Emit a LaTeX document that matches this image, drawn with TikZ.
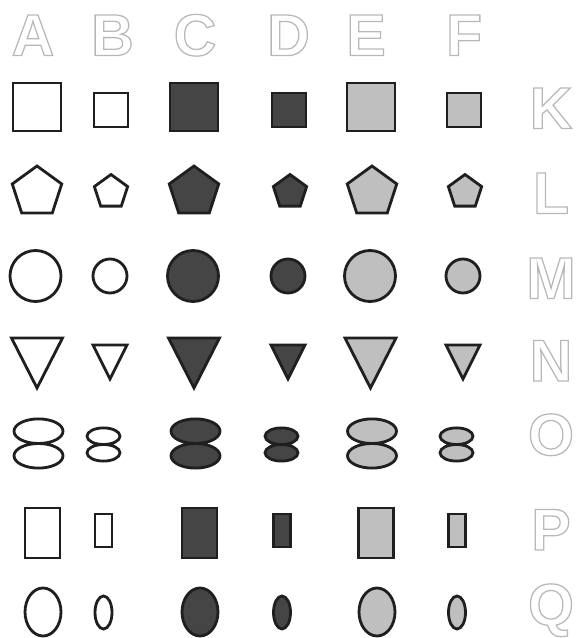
\documentclass[tikz,border=0pt]{standalone}
\usepackage{fontspec}
\setsansfont{Liberation Sans}
\colorlet{darkfill}{black!73}
\colorlet{lightfill}{black!25}
\newcommand\outl[1]{\special{pdf:literal direct 1 Tr 0.9 w}#1\special{pdf:literal direct 0 Tr}}

\begin{document}
\begin{tikzpicture}[x=0.025cm,y=0.025cm,
  shp/.style={draw=black!88,line width=2pt,fill=#1},
  letter/.style={font=\sffamily\bfseries\fontsize{42}{42}\selectfont,text height=30pt,text depth=0pt,inner sep=0pt,text=black!28}]
\useasboundingbox (0,0) rectangle (576,638);

% letters
\foreach \n/\x in {A/33,B/112.5,C/195,D/288.5,E/366,F/464}{\node[letter] (col\n) at (\x,603.5) {\outl{\n}};}
\foreach \n/\y in {K/530.5,L/445.5,M/360.5,N/278,O/204,P/109,Q/34}{\node[letter] (row\n) at (551,\y) {\outl{\n}};}

% K: squares
\foreach \x/\y/\s/\f in {37/531/48/white,111/528/34/white,194/531/48/darkfill,289/528/34/darkfill,371/531/48/lightfill,464/528/34/lightfill}
  {\filldraw[shp=\f] (\x-\s/2,\y-\s/2) rectangle ++(\s,\s);}
% L: pentagons
\foreach \x/\r/\f in {37/26/white,111/17.5/white,194/26/darkfill,290/17.5/darkfill,372/26/lightfill,465/17.5/lightfill}
  {\filldraw[shp=\f,shift={(\x,446)}] (90:\r) -- (162:\r) -- (234:\r) -- (306:\r) -- (18:\r) -- cycle;}
% M: circles
\foreach \x/\r/\f in {35.5/25.5/white,110/17/white,193/25.5/darkfill,288/17/darkfill,370/25.5/lightfill,463/17/lightfill}
  {\filldraw[shp=\f] (\x,362) circle[radius=\r];}
% N: triangles
\foreach \x/\w/\t/\b/\f in {37/25.5/300/250/white,110/17/293/259/white,194/25.5/300/250/darkfill,288/17/293/259/darkfill,370.5/25.5/300/250/lightfill,463/17/293/259/lightfill}
  {\filldraw[shp=\f] (\x-\w,\t) -- (\x+\w,\t) -- (\x,\b) -- cycle;}
% O: double ellipses
\foreach \x/\c/\rx/\ry/\f in {38.5/194.5/24.5/12.3/white,103.5/193.5/16.5/8.3/white,195.5/194.5/24.5/12.3/darkfill,281.5/193.5/16.5/8.3/darkfill,372/194.5/24.5/12.3/lightfill,456.5/193.5/16.5/8.3/lightfill}
  {\filldraw[shp=\f] (\x,\c+\ry) ellipse[x radius=\rx,y radius=\ry] (\x,\c-\ry) ellipse[x radius=\rx,y radius=\ry];}
% P: rectangles
\foreach \x/\y/\w/\h/\f in {42.5/105/35/50/white,103.5/107.5/17/33/white,199.5/105/35/50/darkfill,282/107.5/17/33/darkfill,376/105/35/50/lightfill,457/107.5/17/33/lightfill}
  {\filldraw[shp=\f] (\x-\w/2,\y-\h/2) rectangle ++(\w,\h);}
% Q: ellipses
\foreach \x/\y/\rx/\ry/\f in {43/26/18/24/white,103.5/25.5/8.5/16.5/white,200/26/18/24/darkfill,282/25.5/8.5/16.5/darkfill,377/26/18/24/lightfill,457/25.5/8.5/16.5/lightfill}
  {\filldraw[shp=\f] (\x,\y) ellipse[x radius=\rx,y radius=\ry];}

\end{tikzpicture}
\end{document}
